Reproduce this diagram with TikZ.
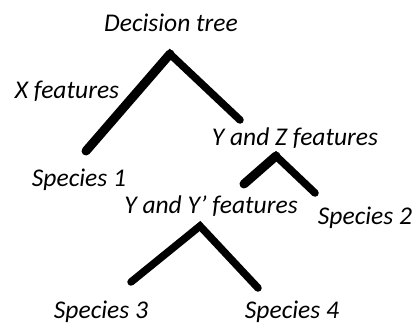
\documentclass[tikz,border=0pt]{standalone}
\usepackage{fontspec}
\setmainfont{Carlito}
\usetikzlibrary{positioning}
\tikzset{
	x=1pt, y=-1pt,
	label/.style={anchor=base, inner sep=0pt, font=\fontsize{25.5}{30}\selectfont\itshape},
	branch/.style={line width=7.5pt, line join=miter, line cap=round},
	fat branch/.style={line width=9pt, line cap=round},
}
\begin{document}
\begin{tikzpicture}
	\useasboundingbox (0,0) rectangle (415,327);
	
	% the three splits
	\coordinate (t1) at (170,54);
	\coordinate (l1) at (86,151);
	\coordinate (r1) at (240,120);
	\coordinate (t2) at (276,156);
	\coordinate (l2) at (244,184);
	\coordinate (r2) at (315,193);
	\coordinate (t3) at (200,226);
	\coordinate (l3) at (131,282);
	\coordinate (r3) at (258,288);
	
	\draw[fat branch] (l1) -- (t1);
	\draw[branch] (l1) -- (t1) -- (r1);
	\draw[fat branch] (l2) -- (t2);
	\draw[branch] (l2) -- (t2) -- (r2);
	\draw[branch] (l3) -- (t3) -- (r3);
	
	% labels
	\node[label] (tree) at (171,31) {Decision tree};
	\node[label] (xf) at (67,98) {X features};
	\node[label] (yz) at (295,145) {Y and Z features};
	\node[label] (s1) at (79,186) {Species 1};
	\node[label] (yy) at (211,213) {Y and Y’ features};
	\node[label] (s2) at (365,224) {Species 2};
	\node[label] (s3) at (101,318) {Species 3};
	\node[label] (s4) at (292,318) {Species 4};
\end{tikzpicture}
\end{document}
